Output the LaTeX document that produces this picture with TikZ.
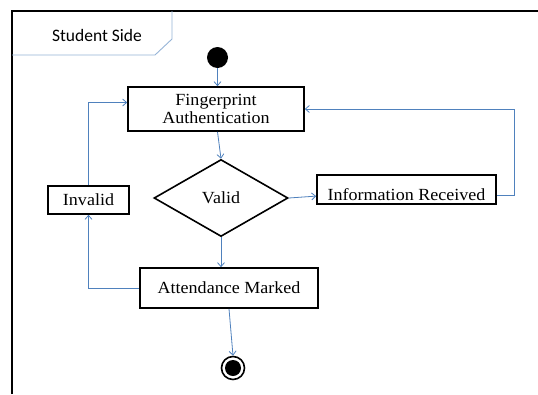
\documentclass[tikz,border=0pt]{standalone}
\usepackage{fontspec}
\setmainfont{Liberation Serif}[FakeStretch=1.06]
\newfontfamily\tabfont{Carlito}
\usetikzlibrary{shapes.geometric,arrows.meta}
\definecolor{flow}{RGB}{79,129,189}
\definecolor{tabline}{RGB}{150,180,215}
\begin{document}
\begin{tikzpicture}[x=1pt,y=-1pt,
  box/.style={draw=black,line width=1.6pt,rectangle,inner sep=0pt,
    font=\fontsize{17}{18.5}\selectfont},
  decision/.style={draw=black,line width=1.6pt,diamond,inner sep=0pt,
    font=\fontsize{17}{18.5}\selectfont},
  flowline/.style={draw=flow,line width=0.8pt,
    -{Straight Barb[length=4pt,width=7pt]}},
  plainline/.style={draw=flow,line width=0.8pt}]
  \fill[white] (0,0) rectangle (538,394);
  \useasboundingbox (0,0) rectangle (538,394);

  % swimlane frame and its tab
  \draw[line width=1.8pt] (12,394) -- (12,11) -- (538,11);
  \draw[tabline,line width=0.9pt] (172,11) -- (172,39) -- (155,55) -- (12,55);
  \node[font=\tabfont\fontsize{17.5}{20}\selectfont] (lane) at (97,35) {Student Side};

  % activity nodes
  \node[circle,fill=black,minimum size=21pt,inner sep=0pt] (start) at (217.5,57.5) {};
  \node[box,align=center,minimum width=176pt,minimum height=44pt] (fp) at (216,109)
    {Fingerprint\\Authentication};
  \node[decision,minimum width=134pt,minimum height=77pt] (valid) at (221,198) {Valid};
  \node[box,minimum width=179pt,text height=26pt,text depth=3.3pt] (info) at (406.5,189.6)
    {Information Received};
  \node[box,minimum width=81pt,minimum height=28pt] (invalid) at (88.5,200) {Invalid};
  \node[box,minimum width=178pt,minimum height=40pt] (att) at (229,288) {Attendance Marked};
  \node[circle,draw=black,line width=1.6pt,minimum size=23pt,inner sep=0pt] (endn) at (233,368) {};
  \fill[black] (endn.center) circle (8pt);

  % connectors
  \draw[flowline] (start) -- (start |- fp.north);
  \draw[flowline] (fp.south -| start) -- (valid.north);
  \draw[flowline] (valid.east) -- ([yshift=-6.5pt]info.west);
  \draw[flowline] (valid.south) -- (valid.south |- att.north);
  \draw[flowline] (att.west) -| (invalid.south);
  \draw[flowline] (invalid.north) |- ([yshift=6.5pt]fp.west);
  \draw[flowline] ([yshift=-6pt]info.east) -- ++(18,0) |- (fp.east);
  \draw[flowline] (att.south) -- (endn.north);
\end{tikzpicture}
\end{document}
